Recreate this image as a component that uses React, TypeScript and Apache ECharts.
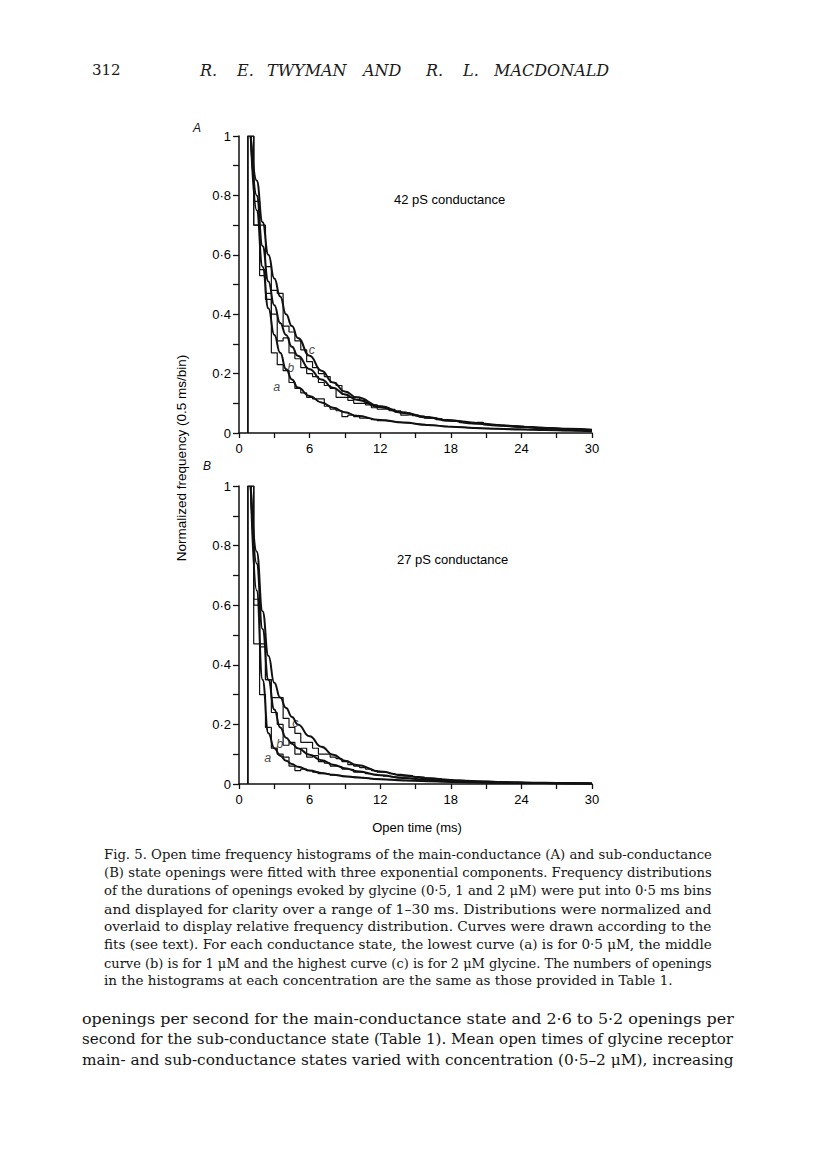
import React, { useEffect, useRef } from "react";
import * as echarts from "echarts";

// ---------- DATA ----------
const BIN_START = 0.75; // ms, left edge of first 0.5 ms bin
const BIN_WIDTH = 0.5;

const Y_TICKS = [0, 0.2, 0.4, 0.6, 0.8, 1];
const X_TICKS = [0, 6, 12, 18, 24, 30];

// Panel A (42 pS) histograms, bins centred 1.0 ... 29.5 ms
const A_HIST_A = [
  1.0, 0.70, 0.53, 0.45, 0.27, 0.23, 0.21, 0.17, 0.15, 0.135,
  0.12, 0.115, 0.115, 0.09, 0.08, 0.075, 0.055, 0.06, 0.055, 0.05,
  0.048, 0.045, 0.042, 0.04, 0.038, 0.036, 0.034, 0.032, 0.031, 0.029,
  0.027, 0.026, 0.024, 0.022, 0.021, 0.02, 0.019, 0.018, 0.017, 0.016,
  0.016, 0.015, 0.014, 0.014, 0.013, 0.013, 0.012, 0.011, 0.011, 0.01,
  0.01, 0.009, 0.009, 0.008, 0.008, 0.007, 0.007, 0.006,
];
const A_HIST_B = [
  1.0, 0.70, 0.55, 0.47, 0.40, 0.31, 0.32, 0.27, 0.25, 0.22,
  0.20, 0.19, 0.17, 0.16, 0.15, 0.12, 0.12, 0.11, 0.10, 0.10,
  0.095, 0.085, 0.08, 0.08, 0.075, 0.07, 0.06, 0.062, 0.058, 0.055,
  0.05, 0.048, 0.045, 0.042, 0.04, 0.038, 0.035, 0.034, 0.033, 0.036,
  0.028, 0.027, 0.025, 0.024, 0.022, 0.021, 0.02, 0.019, 0.018, 0.017,
  0.016, 0.015, 0.014, 0.014, 0.013, 0.012, 0.011, 0.01,
];
const A_HIST_C = [
  1.0, 0.78, 0.70, 0.56, 0.48, 0.47, 0.36, 0.34, 0.31, 0.28,
  0.24, 0.22, 0.20, 0.19, 0.17, 0.16, 0.13, 0.12, 0.12, 0.11,
  0.10, 0.095, 0.09, 0.085, 0.08, 0.075, 0.07, 0.065, 0.06, 0.057,
  0.054, 0.051, 0.048, 0.045, 0.043, 0.041, 0.039, 0.037, 0.035, 0.033,
  0.031, 0.029, 0.027, 0.026, 0.025, 0.024, 0.022, 0.021, 0.02, 0.019,
  0.018, 0.017, 0.016, 0.015, 0.014, 0.013, 0.012, 0.011,
];

// Panel A fitted curves
const A_FIT_X = [1, 1.5, 2, 2.5, 3, 3.5, 4, 4.5, 5, 6, 7, 8, 9, 10, 12, 14, 16, 18, 20, 22, 24, 26, 28, 30];
const A_FIT_A = [1.0, 0.75, 0.56, 0.42, 0.33, 0.27, 0.215, 0.18, 0.153, 0.125, 0.103, 0.085, 0.07, 0.058, 0.044, 0.035, 0.027, 0.021, 0.017, 0.014, 0.012, 0.01, 0.008, 0.006];
const A_FIT_B = [1.0, 0.8, 0.63, 0.51, 0.43, 0.37, 0.33, 0.29, 0.26, 0.215, 0.18, 0.152, 0.13, 0.112, 0.087, 0.067, 0.052, 0.041, 0.032, 0.025, 0.02, 0.016, 0.013, 0.01];
const A_FIT_C = [1.0, 0.85, 0.71, 0.6, 0.52, 0.46, 0.4, 0.36, 0.32, 0.26, 0.21, 0.17, 0.14, 0.12, 0.09, 0.068, 0.053, 0.042, 0.033, 0.026, 0.021, 0.017, 0.014, 0.011];

// Panel B (27 pS) histograms
const B_HIST_A = [
  1.0, 0.47, 0.30, 0.19, 0.12, 0.10, 0.09, 0.06, 0.045, 0.05,
  0.045, 0.04, 0.035, 0.033, 0.03, 0.028, 0.025, 0.024, 0.022, 0.02,
  0.018, 0.017, 0.016, 0.015, 0.014, 0.013, 0.012, 0.011, 0.01, 0.01,
  0.009, 0.009, 0.008, 0.008, 0.007, 0.007, 0.006, 0.006, 0.005, 0.005,
  0.005, 0.004, 0.004, 0.004, 0.004, 0.003, 0.003, 0.003, 0.003, 0.003,
  0.002, 0.002, 0.002, 0.002, 0.002, 0.002, 0.002, 0.002,
];
const B_HIST_B = [
  1.0, 0.62, 0.46, 0.35, 0.24, 0.20, 0.13, 0.14, 0.10, 0.12,
  0.09, 0.095, 0.075, 0.07, 0.06, 0.058, 0.05, 0.048, 0.04, 0.038,
  0.035, 0.032, 0.029, 0.026, 0.024, 0.022, 0.02, 0.018, 0.016, 0.015,
  0.014, 0.013, 0.012, 0.011, 0.01, 0.009, 0.008, 0.008, 0.007, 0.007,
  0.006, 0.006, 0.005, 0.005, 0.005, 0.004, 0.004, 0.004, 0.004, 0.003,
  0.003, 0.003, 0.003, 0.003, 0.002, 0.002, 0.002, 0.002,
];
const B_HIST_C = [
  1.0, 0.60, 0.47, 0.35, 0.29, 0.29, 0.22, 0.19, 0.17, 0.14,
  0.14, 0.12, 0.10, 0.10, 0.09, 0.085, 0.075, 0.065, 0.06, 0.055,
  0.05, 0.045, 0.04, 0.038, 0.035, 0.032, 0.03, 0.028, 0.025, 0.023,
  0.02, 0.019, 0.017, 0.016, 0.014, 0.013, 0.012, 0.011, 0.01, 0.009,
  0.009, 0.008, 0.007, 0.007, 0.006, 0.006, 0.005, 0.005, 0.005, 0.004,
  0.004, 0.004, 0.003, 0.003, 0.003, 0.003, 0.002, 0.002,
];

// Panel B fitted curves
const B_FIT_X = [1, 1.5, 2, 2.5, 3, 3.5, 4, 4.5, 5, 6, 7, 8, 9, 10, 12, 14, 16, 18, 20, 22, 24, 26, 28, 30];
const B_FIT_A = [1.0, 0.65, 0.35, 0.17, 0.12, 0.095, 0.078, 0.067, 0.058, 0.045, 0.037, 0.031, 0.026, 0.022, 0.016, 0.012, 0.009, 0.007, 0.005, 0.004, 0.003, 0.003, 0.002, 0.002];
const B_FIT_B = [1.0, 0.74, 0.52, 0.35, 0.25, 0.19, 0.155, 0.135, 0.12, 0.098, 0.08, 0.065, 0.053, 0.043, 0.029, 0.02, 0.014, 0.01, 0.007, 0.005, 0.004, 0.003, 0.0025, 0.002];
const B_FIT_C = [1.0, 0.78, 0.58, 0.43, 0.34, 0.29, 0.255, 0.225, 0.2, 0.16, 0.125, 0.098, 0.078, 0.064, 0.042, 0.028, 0.019, 0.013, 0.009, 0.007, 0.005, 0.004, 0.003, 0.002];

// curve labels (letter, time, frequency)
const A_CURVE_LABELS: [string, number, number][] = [
  ["c", 6.2, 0.28],
  ["b", 4.4, 0.22],
  ["a", 3.2, 0.155],
];
const B_CURVE_LABELS: [string, number, number][] = [
  ["c", 4.8, 0.204],
  ["b", 3.45, 0.135],
  ["a", 2.45, 0.086],
];

const PAGE_NUMBER = "312";
const RUNNING_HEAD = ["R.", "E.", "TWYMAN", "AND", "R.", "L.", "MACDONALD"];
const PANEL_A_TITLE = "42 pS conductance";
const PANEL_B_TITLE = "27 pS conductance";
const Y_TITLE = "Normalized frequency (0.5 ms/bin)";
const X_TITLE = "Open time (ms)";

const CAPTION = [
  "Fig. 5. Open time frequency histograms of the main-conductance (A) and sub-conductance",
  "(B) state openings were fitted with three exponential components. Frequency distributions",
  "of the durations of openings evoked by glycine (0·5, 1 and 2 μM) were put into 0·5 ms bins",
  "and displayed for clarity over a range of 1–30 ms. Distributions were normalized and",
  "overlaid to display relative frequency distribution. Curves were drawn according to the",
  "fits (see text). For each conductance state, the lowest curve (a) is for 0·5 μM, the middle",
  "curve (b) is for 1 μM and the highest curve (c) is for 2 μM glycine. The numbers of openings",
  "in the histograms at each concentration are the same as those provided in Table 1.",
];
const BODY = [
  "openings per second for the main-conductance state and 2·6 to 5·2 openings per",
  "second for the sub-conductance state (Table 1). Mean open times of glycine receptor",
  "main- and sub-conductance states varied with concentration (0·5–2 μM), increasing",
];

// ---------- HELPERS ----------
function stepPoints(vals: number[]) {
  const pts: number[][] = [[BIN_START, 0]];
  vals.forEach((v, i) => {
    const x0 = BIN_START + i * BIN_WIDTH;
    pts.push([x0, v]);
    pts.push([x0 + BIN_WIDTH, v]);
  });
  return pts;
}
const zip = (xs: number[], ys: number[]) => xs.map((x, i) => [x, ys[i]]);

const SANS = "'Liberation Sans', Arial, Helvetica, sans-serif";
const SERIF = "'DejaVu Serif', 'Liberation Serif', serif";
const INK = "#111111";

let measureCtx: CanvasRenderingContext2D | null = null;
function measure(text: string, font: string) {
  if (!measureCtx) measureCtx = document.createElement("canvas").getContext("2d");
  if (!measureCtx) return 0;
  measureCtx.font = font;
  return measureCtx.measureText(text).width;
}

// justified block: every line but the last is stretched to the full width
function justifiedLines(lines: string[], x: number, y0: number, lh: number, width: number, font: string) {
  return lines.map((line, i) => {
    const w = measure(line, font) || width;
    const last = i === lines.length - 1;
    const sx = last ? Math.min(1.04, width / w) : width / w;
    return {
      type: "text",
      x,
      y: y0 + i * lh,
      scaleX: sx,
      style: { text: line, font, fill: "#141414", textVerticalAlign: "middle" },
    };
  });
}

function panelSeries(gi: number, hists: number[][], fitX: number[], fits: number[][], labels: [string, number, number][]) {
  const s: any[] = [];
  hists.forEach((h) => {
    s.push({
      type: "line",
      xAxisIndex: gi,
      yAxisIndex: gi,
      data: stepPoints(h),
      showSymbol: false,
      symbol: "none",
      lineStyle: { color: INK, width: 1.2 },
      silent: true,
      z: 2,
    });
  });
  fits.forEach((f) => {
    s.push({
      type: "line",
      xAxisIndex: gi,
      yAxisIndex: gi,
      data: zip(fitX, f),
      smooth: 0.5,
      smoothMonotone: "x",
      showSymbol: false,
      symbol: "none",
      lineStyle: { color: INK, width: 2 },
      silent: true,
      z: 3,
    });
  });
  s.push({
    type: "scatter",
    xAxisIndex: gi,
    yAxisIndex: gi,
    symbolSize: 0,
    data: labels.map(([n, x, y]) => ({ name: n, value: [x, y] })),
    label: {
      show: true,
      position: "inside",
      formatter: (p: any) => p.name,
      fontFamily: SANS,
      fontStyle: "italic",
      fontSize: 12.5,
      color: INK,
    },
    silent: true,
    z: 4,
  });
  return s;
}

function xAxis(gi: number) {
  return {
    type: "value",
    gridIndex: gi,
    min: 0,
    max: 30,
    interval: 6,
    axisLine: { show: true, onZero: false, lineStyle: { color: INK, width: 1.5 } },
    axisTick: { show: true, inside: false, length: 5, lineStyle: { color: INK, width: 1.3 } },
    minorTick: { show: true, splitNumber: 2, length: 5, lineStyle: { color: INK, width: 1.3 } },
    axisLabel: {
      margin: 9,
      fontFamily: SANS,
      fontSize: 13,
      color: "#000",
      formatter: (v: number) => (X_TICKS.includes(v) ? String(v) : ""),
    },
    splitLine: { show: false },
  };
}
function yAxis(gi: number) {
  return {
    type: "value",
    gridIndex: gi,
    min: 0,
    max: 1,
    interval: 0.2,
    axisLine: { show: true, onZero: false, lineStyle: { color: INK, width: 1.5 } },
    axisTick: { show: true, inside: false, length: 6, lineStyle: { color: INK, width: 1.3 } },
    minorTick: { show: true, splitNumber: 2, length: 6, lineStyle: { color: INK, width: 1.3 } },
    axisLabel: {
      margin: 8,
      fontFamily: SANS,
      fontSize: 13,
      color: "#000",
      formatter: (v: number) => {
        const t = Y_TICKS.find((k) => Math.abs(k - v) < 1e-9);
        if (t === undefined) return "";
        return String(Number(t.toFixed(1))).replace(".", "·");
      },
    },
    splitLine: { show: false },
  };
}

export default function App() {
  const ref = useRef<HTMLDivElement>(null);
  useEffect(() => {
    if (!ref.current) return;
    const chart = echarts.init(ref.current, null, { renderer: "svg" });

    const headX = [200, 237, 267, 363, 426, 463, 494];
    const graphic: any[] = [
      {
        type: "text",
        x: 92,
        y: 70,
        style: { text: PAGE_NUMBER, font: `15px ${SERIF}`, fill: "#1a1a1a", textVerticalAlign: "middle" },
      },
      ...RUNNING_HEAD.map((w, i) => ({
        type: "text",
        x: headX[i],
        y: 70,
        style: {
          text: w,
          font: `italic 16px ${SERIF}`,
          fill: "#1a1a1a",
          textVerticalAlign: "middle",
        },
      })),
      {
        type: "text",
        x: 197,
        y: 128,
        style: { text: "A", font: `italic 12px ${SANS}`, fill: INK, textAlign: "center", textVerticalAlign: "middle" },
      },
      {
        type: "text",
        x: 207,
        y: 466,
        style: { text: "B", font: `italic 12px ${SANS}`, fill: INK, textAlign: "center", textVerticalAlign: "middle" },
      },
      {
        type: "text",
        x: 394,
        y: 199,
        style: { text: PANEL_A_TITLE, font: `13px ${SANS}`, fill: "#000", textVerticalAlign: "middle" },
      },
      {
        type: "text",
        x: 397,
        y: 559,
        style: { text: PANEL_B_TITLE, font: `13px ${SANS}`, fill: "#000", textVerticalAlign: "middle" },
      },
      {
        type: "text",
        x: 417,
        y: 827,
        style: { text: X_TITLE, font: `13px ${SANS}`, fill: "#000", textAlign: "center", textVerticalAlign: "middle" },
      },
      {
        type: "text",
        x: 181,
        y: 458,
        rotation: Math.PI / 2,
        style: { text: Y_TITLE, font: `13.5px ${SANS}`, fill: "#000", textAlign: "center", textVerticalAlign: "middle" },
      },
      ...justifiedLines(CAPTION, 104, 855, 18, 608, `13px ${SERIF}`),
      ...justifiedLines(BODY, 82, 1019, 20.5, 652, `15px ${SERIF}`),
    ];

    chart.setOption({
      animation: false,
      backgroundColor: "#ffffff",
      grid: [
        { left: 239, top: 136, width: 353, height: 297, containLabel: false },
        { left: 239, top: 486, width: 353, height: 298, containLabel: false },
      ],
      xAxis: [xAxis(0), xAxis(1)],
      yAxis: [yAxis(0), yAxis(1)],
      series: [
        ...panelSeries(0, [A_HIST_A, A_HIST_B, A_HIST_C], A_FIT_X, [A_FIT_A, A_FIT_B, A_FIT_C], A_CURVE_LABELS),
        ...panelSeries(1, [B_HIST_A, B_HIST_B, B_HIST_C], B_FIT_X, [B_FIT_A, B_FIT_B, B_FIT_C], B_CURVE_LABELS),
      ],
      graphic,
    });
    return () => chart.dispose();
  }, []);

  return (
    <div
      ref={ref}
      style={{ position: "absolute", left: 0, top: 0, width: 816, height: 1166, background: "#fff" }}
    />
  );
}
